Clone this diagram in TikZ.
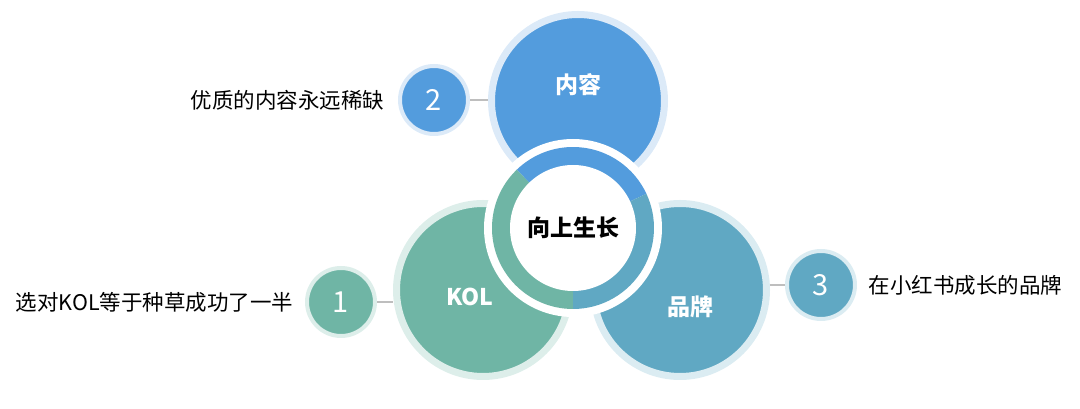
\documentclass[tikz,border=0pt]{standalone}
\usepackage{fontspec}
\setmainfont{Noto Sans CJK SC}
\usetikzlibrary{positioning}
\definecolor{skyblue}{HTML}{539CDD}
\definecolor{skyhalo}{HTML}{DCEAF8}
\definecolor{sage}{HTML}{6FB5A5}
\definecolor{sagehalo}{HTML}{DDEEEA}
\definecolor{lake}{HTML}{60A8C3}
\definecolor{lakehalo}{HTML}{DBECF2}
\definecolor{linkgray}{HTML}{BEBEBE}

\begin{document}
\begin{tikzpicture}[x=1pt,y=1pt,
  bigdisc/.style={circle,inner sep=0pt,minimum size=173pt,line width=7pt},
  numdisc/.style={circle,inner sep=0pt,minimum size=68pt,line width=4pt,text=white,
    font=\fontsize{29}{29}\selectfont},
  tag/.style={font=\fontsize{23}{23}\selectfont\bfseries,text=white},
  note/.style={font=\fontsize{21.5}{21.5}\selectfont},
  link/.style={linkgray,line width=1.3pt}]
  \useasboundingbox (0,0) rectangle (1080,409);
  % three big discs
  \node[bigdisc,fill=skyblue,draw=skyhalo] (content) at (578,308) {};
  \node[bigdisc,fill=sage,draw=sagehalo] (kol) at (483,119) {};
  \node[bigdisc,fill=lake,draw=lakehalo] (brand) at (680,119) {};
  \node[tag] (contenttag) at (578,324) {内容};
  \node[tag] (koltag) at (470,112) {KOL};
  \node[tag] (brandtag) at (690,102) {品牌};
  % numbered discs and notes
  \node[numdisc,fill=skyblue,draw=skyhalo] (n2) at (434,309) {2};
  \node[numdisc,fill=sage,draw=sagehalo] (n1) at (341,107) {1};
  \node[numdisc,fill=lake,draw=lakehalo] (n3) at (821,124) {3};
  \node[note,left=10pt of n2] (note2) {优质的内容永远稀缺};
  \node[note,left=8pt of n1] (note1) {选对KOL等于种草成功了一半};
  \node[note,right=8pt of n3] (note3) {在小红书成长的品牌};
  \draw[link] (n2.east) -- (content.west |- n2.east);
  \draw[link] (n1.east) -- (kol.west |- n1.east);
  \draw[link] (n3.west) -- (brand.east |- n3.west);
  % hub ring
  \node[circle,fill=white,inner sep=0pt,minimum size=178pt] (hub) at (573,181) {};
  \foreach \from/\to/\col in {25/134/skyblue,134/270/sage,270/385/lake}
    \fill[\col] (hub.center) -- ++(\from:81) arc (\from:\to:81) -- cycle;
  \node[circle,fill=white,inner sep=0pt,minimum size=126pt,
    font=\fontsize{23}{23}\selectfont\bfseries] (core) at (hub.center) {向上生长};
\end{tikzpicture}
\end{document}
